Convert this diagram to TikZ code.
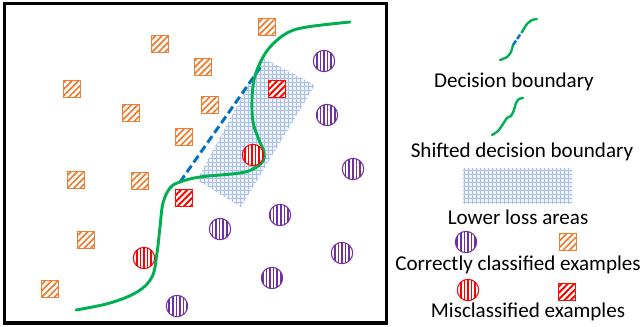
\documentclass[tikz,border=0pt]{standalone}
\usepackage{fontspec}
\setmainfont{Carlito}
\usetikzlibrary{patterns.meta}

\definecolor{sqorange}{RGB}{237,125,49}
\definecolor{cpurple}{RGB}{112,48,160}
\definecolor{bndgreen}{RGB}{0,176,80}
\definecolor{bndblue}{RGB}{0,112,192}
\definecolor{gridblue}{RGB}{170,192,230}
\definecolor{lossfill}{RGB}{238,243,251}

\begin{document}
\begin{tikzpicture}
 [x=0.75pt, y=-0.75pt,
  good square/.style={minimum size=12.5pt, inner sep=0pt, draw=sqorange, line width=0.7pt, fill=white,
    postaction={pattern={Lines[angle=45,distance=3.4pt,line width=1.3pt]}, pattern color=sqorange}},
  bad square/.style={good square, draw=red, postaction={pattern={Lines[angle=45,distance=3.4pt,line width=1.3pt]}, pattern color=red}},
  good circle/.style={circle, minimum size=16pt, inner sep=0pt, draw=cpurple, line width=0.8pt, fill=white,
    postaction={pattern={Lines[angle=90,distance=2.7pt,line width=1.1pt]}, pattern color=cpurple}},
  bad circle/.style={good circle, draw=red, postaction={pattern={Lines[angle=90,distance=2.7pt,line width=1.1pt]}, pattern color=red}},
  loss area/.style={fill=lossfill, postaction={pattern={Hatch[angle=0,distance=3pt,line width=0.5pt]}, pattern color=gridblue}},
  boundary/.style={bndgreen, line width=2.2pt, line cap=round},
  label text/.style={inner sep=0pt, font=\fontsize{15.8}{18}\selectfont}]

\useasboundingbox (0,0) rectangle (640,326);

% lower loss area
\path[loss area] (263,58) -- (315,85) -- (241,207) -- (197,180) -- cycle;

% boundaries
\coordinate (db1) at (180,182);
\coordinate (db2) at (262,65);
\draw[bndblue, line width=2.2pt, dash pattern=on 6pt off 3pt] (db1) -- (db2);
\draw[boundary] plot[smooth, tension=0.6] coordinates {(76,310) (110,303) (137,292) (152,277) (157,253) (160,227)
  (163,203) (170,188) (180,182) (200,177) (240,173) (255,168) (263,161) (264,152) (259,140) (253,122)
  (252,100) (254,80) (260,63) (270,47) (287,33) (307,27) (350,22)};

% correctly classified
\node[good square] (s1) at (267,27) {};
\node[good square] (s2) at (160,44) {};
\node[good square] (s3) at (203,67) {};
\node[good square] (s4) at (72,89) {};
\node[good square] (s5) at (131,113) {};
\node[good square] (s6) at (210,105) {};
\node[good square] (s7) at (184,137) {};
\node[good square] (s8) at (76,180) {};
\node[good square] (s9) at (140,181) {};
\node[good square] (s10) at (86,240) {};
\node[good square] (s11) at (50,289) {};
\node[good circle] (c1) at (324,61) {};
\node[good circle] (c2) at (327,115) {};
\node[good circle] (c3) at (353,169) {};
\node[good circle] (c4) at (280,215) {};
\node[good circle] (c5) at (220,229) {};
\node[good circle] (c6) at (342,253) {};
\node[good circle] (c7) at (272,278) {};
\node[good circle] (c8) at (177,306) {};

% misclassified
\node[bad square] (r1) at (277,89) {};
\node[bad square] (r2) at (184,198) {};
\node[bad circle] (m1) at (253,155) {};
\node[bad circle] (m2) at (144,258) {};

\draw[line width=2.3pt] (4.5,3.5) rectangle (386.5,323);

% legend
\draw[boundary, line width=1.8pt] plot[smooth] coordinates {(500,60) (507,57) (511,52) (513,45)};
\draw[bndblue, line width=1.8pt, dash pattern=on 4pt off 1.5pt] (513,45) -- (522,32);
\draw[boundary, line width=1.8pt] plot[smooth] coordinates {(522,32) (527,24) (532,20) (537,19)};
\node[label text] (t1) at (514,82) {Decision boundary};
\draw[boundary, line width=1.8pt] plot[smooth] coordinates {(492,135) (498,131) (503,124) (507,118) (511,116) (514,110) (516,103) (519,99) (523,98)};
\node[label text] (t2) at (522,152) {Shifted decision boundary};
\path[loss area] (463,168) rectangle (572,203);
\node[label text] (t3) at (518,217) {Lower loss areas};
\node[good circle] (lc1) at (466,242) {};
\node[good square] (ls1) at (568,242) {};
\node[label text] (t4) at (518,265) {Correctly classified examples};
\node[bad circle] (lc2) at (468,290) {};
\node[bad square] (ls2) at (567,292) {};
\node[label text] (t5) at (528,312) {Misclassified examples};

\end{tikzpicture}
\end{document}
